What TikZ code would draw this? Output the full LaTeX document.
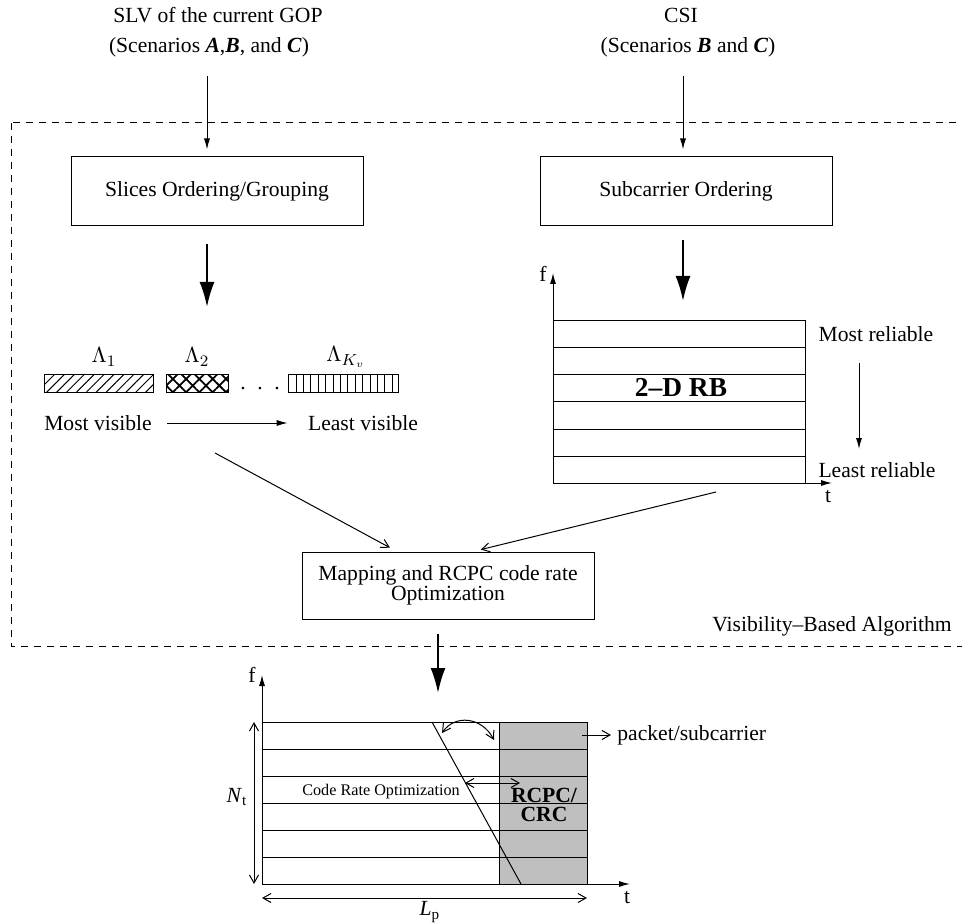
\documentclass[tikz,border=0pt]{standalone}
\usepackage{fontspec}
\setmainfont{Liberation Serif}
\usetikzlibrary{arrows.meta,patterns.meta}

\tikzset{
  txt/.style={inner sep=0pt, font=\fontsize{10.8}{12}\selectfont},
  blk/.style={draw, line width=0.5pt, minimum width=146pt, minimum height=34.5pt, inner sep=0pt, font=\fontsize{10.8}{12}\selectfont},
  thinarr/.style={line width=0.5pt, -{Latex[length=5.5pt,width=3pt]}},
  fatarr/.style={line width=1pt, -{Latex[length=12.5pt,width=7.5pt]}},
  openarr/.style={line width=0.5pt, -{Straight Barb[length=4pt,width=4.5pt]}},
  dblarr/.style={line width=0.5pt, {Straight Barb[length=4pt,width=4.5pt]}-{Straight Barb[length=4pt,width=4.5pt]}},
  gridline/.style={line width=0.5pt},
}

\begin{document}
\begin{tikzpicture}[x=0.5pt,y=-0.5pt]
  \useasboundingbox (0,0) rectangle (962,924);

  %%% inputs
  \node[txt,anchor=base] (slv) at (218,23) {SLV of the current GOP};
  \node[txt,anchor=base] (slvsc) at (209,53) {(Scenarios \textbf{\textit{A}},\textbf{\textit{B}}, and \textbf{\textit{C}})};
  \node[txt,anchor=base] (csi) at (681,23) {CSI};
  \node[txt,anchor=base] (csisc) at (688,53) {(Scenarios \textbf{\textit{B}} and \textbf{\textit{C}})};

  %%% algorithm frame
  \draw[line width=0.5pt, dash pattern=on 3.5pt off 3pt] (11,123) rectangle (968,646);
  \node[txt,anchor=base] (algo) at (832,631) {Visibility--Based Algorithm};

  \node[blk] (slices) at (217,191.5) {Slices Ordering/Grouping};
  \node[blk] (subcar) at (686,191.5) {Subcarrier Ordering};

  \coordinate (slvin) at (207,76);
  \coordinate (csiin) at (683,76);
  \draw[thinarr, shorten >=3.5pt] (slvin) -- (slvin |- slices.north);
  \draw[thinarr, shorten >=3.5pt] (csiin) -- (csiin |- subcar.north);

  \coordinate (lamtop) at (207,307);
  \coordinate (rbtop) at (683,301);
  \draw[fatarr, shorten <=9pt] (lamtop |- slices.south) -- (lamtop);
  \draw[fatarr, shorten <=7pt] (rbtop |- subcar.south) -- (rbtop);

  %%% slice groups
  \node[txt] (lam1) at (104,357) {$\Lambda_1$};
  \node[txt] (lam2) at (197,357) {$\Lambda_2$};
  \node[txt] (lamk) at (346,357) {$\Lambda_{K_v}$};
  \draw[line width=0.5pt, pattern={Lines[angle=45,distance=3.5pt,line width=0.5pt]}] (44,375) rectangle (153,393);
  \draw[line width=0.5pt, pattern={Hatch[angle=45,distance=4.7pt,line width=0.9pt]}] (166,375) rectangle (228,393);
  \draw[line width=0.5pt, pattern={Lines[angle=90,distance=3.7pt,line width=0.5pt]}] (288,375) rectangle (398,393);
  \node[txt] (dots) at (260,389) {.\hspace{5.8pt}.\hspace{5.8pt}.};

  \node[txt] (mostvis) at (98,423) {Most visible};
  \node[txt] (leastvis) at (363,423) {Least visible};
  \draw[thinarr, shorten <=7.5pt, shorten >=10pt] (mostvis) -- (leastvis);

  %%% 2-D resource block
  \foreach \r in {0,...,5}
    \draw[gridline] (553,321+27*\r) rectangle (805,348+27*\r);
  \draw[thinarr] (553,483) -- (553,273);
  \draw[thinarr] (553,483) -- (832,483);
  \node[txt] (rbf) at (543,274) {f};
  \node[txt] (rbt) at (828,497) {t};
  \node[inner sep=0pt, font=\fontsize{13.7}{15}\selectfont\bfseries] (rb) at (681,387) {2--D RB};

  \node[txt] (mostrel) at (876,334) {Most reliable};
  \node[txt] (leastrel) at (877,470) {Least reliable};
  \draw[thinarr, shorten <=10.5pt, shorten >=6.5pt] ([xshift=-8.5pt]mostrel.south) -- ([xshift=-9pt]leastrel.north);

  %%% mapping
  \node[blk, minimum height=33.5pt, align=center, font=\fontsize{10.8}{10}\selectfont] (mapping) at (448,585.5) {Mapping and RCPC code rate\\Optimization};

  \coordinate (visfoot) at (215,453);
  \coordinate (rbfoot) at (716,492);
  \draw[openarr, shorten >=4pt] (visfoot) -- ([xshift=-25.5pt]mapping.north);
  \draw[openarr, shorten >=4pt] (rbfoot) -- ([xshift=12.5pt]mapping.north);

  \coordinate (gridtop) at (438,693);
  \draw[fatarr, shorten <=7pt] (gridtop |- mapping.south) -- (gridtop);

  %%% packets
  \fill[black!25] (499,722) rectangle (587,884);
  \foreach \r in {0,...,5}
    \draw[gridline] (262,722+27*\r) rectangle (587,749+27*\r);
  \draw[gridline] (499,722) -- (499,884);
  \draw[gridline] (432,722) -- (521,884);
  \draw[thinarr] (262,884) -- (262,675);
  \draw[thinarr] (262,884) -- (630,884);
  \node[txt] (pf) at (252,675) {f};
  \node[txt] (pt) at (627,898) {t};

  \draw[dblarr] (442,733) .. controls (455,714) and (482,717) .. (494,740);
  \draw[dblarr] (465,783) -- (520,783);
  \node[inner sep=0pt, font=\fontsize{8.1}{10}\selectfont] (cro) at (381,792) {Code Rate Optimization};
  \node[inner sep=0pt, align=center, font=\fontsize{10.8}{9.5}\selectfont\bfseries] (rcpc) at (544,805) {RCPC/\\CRC};

  \node[txt,anchor=west] (packet) at (617,735) {packet/subcarrier};
  \draw[openarr, shorten >=3pt] (582,735) -- (packet.west);

  \draw[dblarr] (254,722) -- (254,884);
  \node[txt] (nt) at (237,797) {\textit{N}\textsubscript{t}};
  \draw[dblarr] (262,898) -- (587,898);
  \node[txt] (lp) at (430,912) {\textit{L}\textsubscript{p}};
\end{tikzpicture}
\end{document}
